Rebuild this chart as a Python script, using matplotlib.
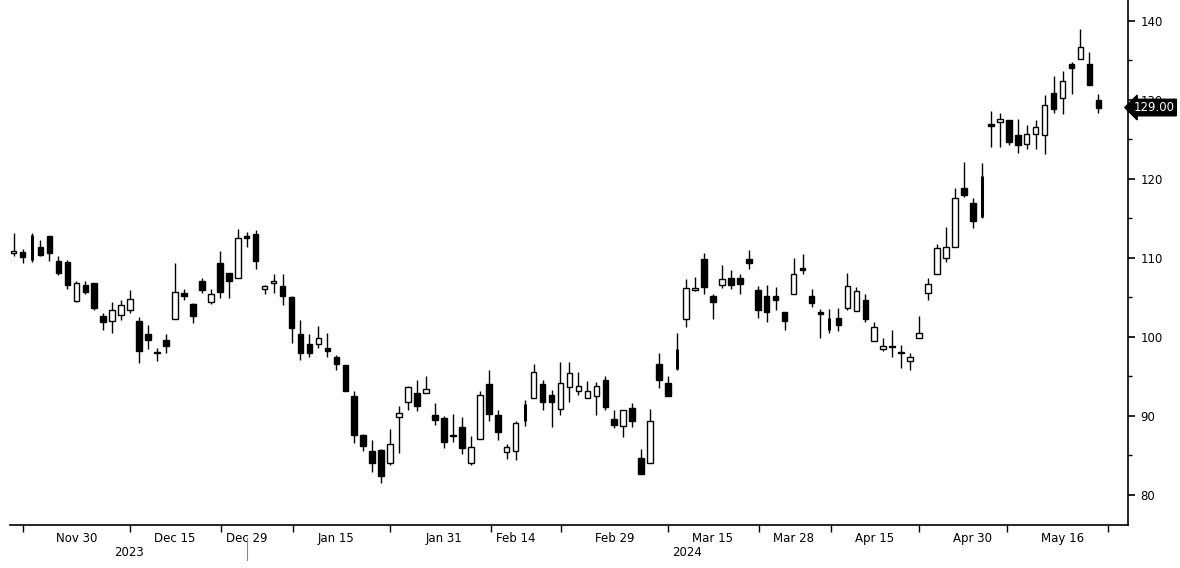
import numpy as np
import pandas as pd
import matplotlib
matplotlib.use('Agg')
import matplotlib.pyplot as plt

# daily OHLC, 2023-11-21 .. 2024-05-22 (HK trading days)
opens = [110.6, 110.7, 109.7, 111.4, 112.7, 109.6, 109.4, 104.5, 106.5, 106.8,
         102.6, 102.0, 102.7, 103.4, 102.0, 100.3, 98.1, 99.6, 102.2, 105.6,
         104.2, 107.0, 104.4, 109.3, 108.1, 107.5, 112.7, 113.0, 106.0, 106.8,
         106.4, 105.0, 100.4, 99.1, 99.1, 98.6, 97.4, 96.4, 92.5, 87.6,
         85.5, 85.7, 84.0, 89.8, 91.7, 92.9, 92.9, 90.1, 89.7, 87.6,
         88.6, 84.1, 87.1, 94.0, 90.1, 85.4, 85.5, 89.3, 92.2, 94.0,
         92.6, 90.9, 93.7, 93.1, 92.3, 92.5, 94.6, 89.6, 88.7, 91.0,
         84.7, 84.1, 96.6, 94.1, 95.9, 102.3, 105.9, 109.8, 105.1, 106.6,
         107.5, 107.5, 109.8, 105.9, 105.1, 105.1, 103.2, 105.4, 108.7, 105.2,
         103.1, 102.4, 102.4, 103.6, 103.3, 104.7, 99.5, 98.5, 98.9, 98.1,
         97.0, 99.8, 105.5, 108.0, 110.0, 111.3, 118.8, 116.9, 115.1, 126.9,
         127.2, 127.4, 125.5, 124.4, 125.7, 125.5, 130.9, 130.2, 134.5, 135.2,
         134.5, 129.9]
highs = [113.1, 111.1, 113.1, 112.2, 112.7, 110.2, 109.7, 107.0, 107.0, 106.8,
         103.0, 104.4, 104.7, 105.9, 102.5, 101.5, 98.6, 100.4, 109.3, 106.1,
         104.3, 107.5, 106.0, 110.8, 108.1, 113.6, 113.2, 113.5, 106.5, 107.9,
         107.9, 105.1, 102.1, 100.4, 101.4, 100.5, 97.7, 96.4, 93.2, 87.7,
         87.0, 85.8, 88.4, 91.2, 93.8, 94.6, 95.0, 91.6, 90.0, 90.2,
         89.8, 87.5, 93.2, 95.8, 90.7, 86.4, 89.4, 92.0, 96.6, 94.6,
         93.3, 96.8, 96.8, 95.5, 94.4, 94.3, 95.0, 90.8, 90.8, 91.6,
         85.8, 90.9, 97.9, 95.0, 100.5, 107.3, 107.6, 110.6, 105.4, 109.1,
         108.4, 107.9, 111.0, 106.4, 106.5, 106.3, 103.2, 110.0, 110.5, 106.1,
         103.5, 103.5, 103.6, 108.1, 106.3, 105.4, 101.9, 99.8, 100.8, 99.0,
         97.9, 102.6, 107.4, 111.7, 113.9, 118.8, 122.1, 117.6, 122.0, 128.6,
         128.3, 127.4, 127.6, 126.8, 127.4, 130.6, 133.0, 133.6, 134.8, 138.9,
         136.0, 130.7]
lows = [110.2, 109.3, 109.4, 110.2, 109.6, 107.8, 106.0, 104.4, 105.4, 103.4,
        100.9, 100.5, 102.1, 103.0, 96.7, 98.4, 96.9, 97.9, 102.2, 104.7,
        101.8, 105.5, 104.1, 104.9, 104.9, 107.5, 111.3, 108.6, 105.4, 105.5,
        104.0, 99.2, 97.1, 97.4, 98.6, 97.5, 95.8, 93.2, 86.6, 85.5,
        82.9, 81.5, 83.8, 85.3, 90.7, 90.6, 92.9, 88.9, 86.0, 86.7,
        85.2, 83.8, 87.1, 89.3, 87.0, 84.5, 84.4, 88.7, 92.2, 90.8,
        88.6, 90.1, 91.7, 92.7, 92.2, 90.1, 90.8, 88.5, 87.3, 88.6,
        82.6, 84.1, 93.5, 92.5, 95.8, 101.2, 105.8, 105.4, 102.3, 106.2,
        106.0, 105.4, 108.6, 102.4, 101.9, 103.4, 100.8, 105.4, 107.9, 103.8,
        99.9, 100.5, 100.7, 103.4, 103.3, 101.9, 99.5, 98.2, 97.4, 96.1,
        95.8, 99.8, 104.7, 107.9, 109.5, 111.3, 117.7, 113.8, 115.0, 124.0,
        124.0, 124.2, 123.3, 123.7, 123.7, 123.1, 128.3, 128.2, 130.7, 135.2,
        131.8, 128.3]
closes = [110.8, 110.1, 112.9, 110.4, 110.6, 108.1, 106.5, 106.8, 105.7, 103.6,
          101.9, 103.4, 104.0, 104.8, 98.2, 99.6, 97.9, 98.8, 105.7, 105.1,
          102.6, 105.9, 105.4, 105.7, 107.1, 112.5, 112.5, 109.6, 106.4, 107.0,
          105.2, 101.1, 98.0, 98.0, 99.8, 98.2, 96.6, 93.2, 87.6, 86.2,
          84.0, 82.4, 86.4, 90.4, 93.6, 91.2, 93.4, 89.5, 86.7, 87.4,
          85.9, 86.1, 92.7, 90.3, 88.0, 86.1, 89.1, 91.5, 95.6, 91.7,
          91.7, 94.2, 95.4, 93.8, 93.1, 93.8, 91.1, 88.9, 90.7, 89.3,
          82.6, 89.3, 94.5, 92.5, 98.5, 106.2, 106.2, 106.3, 104.4, 107.3,
          106.5, 106.7, 109.3, 103.4, 103.2, 104.6, 102.0, 107.9, 108.5, 104.3,
          102.9, 100.9, 101.5, 106.4, 105.8, 102.3, 101.2, 98.9, 98.7, 98.0,
          97.4, 100.5, 106.7, 111.2, 111.3, 117.6, 117.9, 114.6, 120.4, 126.7,
          127.5, 124.6, 124.2, 125.6, 126.5, 129.3, 128.8, 132.3, 134.0, 136.7,
          131.8, 129.0]
# candles whose body is drawn as a heavy line only
thin_days = [2, 57, 74, 91, 108]

holidays = ['2023-12-25', '2023-12-26', '2024-01-01', '2024-02-12', '2024-02-13',
            '2024-03-29', '2024-04-01', '2024-04-04', '2024-05-01', '2024-05-15']
label_dates = ['2023-11-30', '2023-12-15', '2023-12-29', '2024-01-15', '2024-01-31',
               '2024-02-14', '2024-02-29', '2024-03-15', '2024-03-28', '2024-04-15',
               '2024-04-30', '2024-05-16']
sep_ticks = [1.1, 13.0, 23.1, 31.2, 42.0, 53.2, 61.1, 73.0, 83.1, 91.2, 101.0, 110.8, 122.1]
years = ['2023', '2024']
year_pos = [12.9, 75.1]
last_price = 129.00

days = pd.bdate_range('2023-11-21', '2024-05-22')
days = days[~days.isin(pd.to_datetime(holidays))]
lab_idx = [days.get_loc(pd.Timestamp(d)) for d in label_dates]
lab_txt = [pd.Timestamp(d).strftime('%b %d').replace(' 0', ' ') for d in label_dates]

o = np.array(opens); h = np.array(highs); l = np.array(lows); c = np.array(closes)
x = np.arange(len(o))
thin = np.isin(x, thin_days)
up = (c >= o) & ~thin
dn = (c < o) & ~thin
bot = np.minimum(o, c)
hgt = np.maximum(np.abs(c - o), 0.12)

plt.rcParams['font.family'] = 'DejaVu Sans'
fig = plt.figure(figsize=(11.8, 5.68), dpi=100)
ax = fig.add_axes([10 / 1180, 43 / 568, 1118 / 1180, 525 / 568])

ax.vlines(x, l, h, color='black', lw=1, zorder=2)
ax.vlines(x[thin], bot[thin], bot[thin] + hgt[thin], color='black', lw=2.2, zorder=3)
ax.bar(x[up], hgt[up], bottom=bot[up], width=0.62, facecolor='white',
       edgecolor='black', lw=1, zorder=3)
ax.bar(x[dn], hgt[dn], bottom=bot[dn], width=0.62, facecolor='black',
       edgecolor='black', lw=1, zorder=3)

ax.set_xlim(-0.4, 124.3)
ax.set_ylim(76.2, 142.6)

for s in ['top', 'left']:
    ax.spines[s].set_visible(False)
ax.spines['right'].set_linewidth(1.2)
ax.spines['bottom'].set_linewidth(1.2)

ax.yaxis.tick_right()
ax.set_yticks(np.arange(80, 141, 10))
ax.set_yticks(np.arange(85, 140, 10), minor=True)
ax.tick_params(axis='y', which='major', length=5, width=1.2, pad=4, labelsize=8.5)
ax.tick_params(axis='y', which='minor', length=3, width=1)

ax.set_xticks(lab_idx)
ax.set_xticklabels(lab_txt)
ax.set_xticks(sep_ticks, minor=True)
ax.tick_params(axis='x', which='major', length=0, pad=5, labelsize=8.5)
ax.tick_params(axis='x', which='minor', length=5, width=1)

tr = ax.get_xaxis_transform()
for yr, xp in zip(years, year_pos):
    ax.text(xp, -0.052, yr, transform=tr, ha='center', va='center', fontsize=8.5)
ax.plot([lab_idx[2], lab_idx[2]], [-0.025, -0.067], transform=tr, color='#888888',
        lw=0.8, clip_on=False)

ax.annotate(f'{last_price:.2f}', xy=(1.0, last_price), xycoords=('axes fraction', 'data'),
            xytext=(4, 0), textcoords='offset points', ha='left', va='center',
            color='white', fontsize=8.5, zorder=10,
            bbox=dict(boxstyle='larrow,pad=0.15', fc='black', ec='black'))

fig.savefig('out.png', dpi=100)
